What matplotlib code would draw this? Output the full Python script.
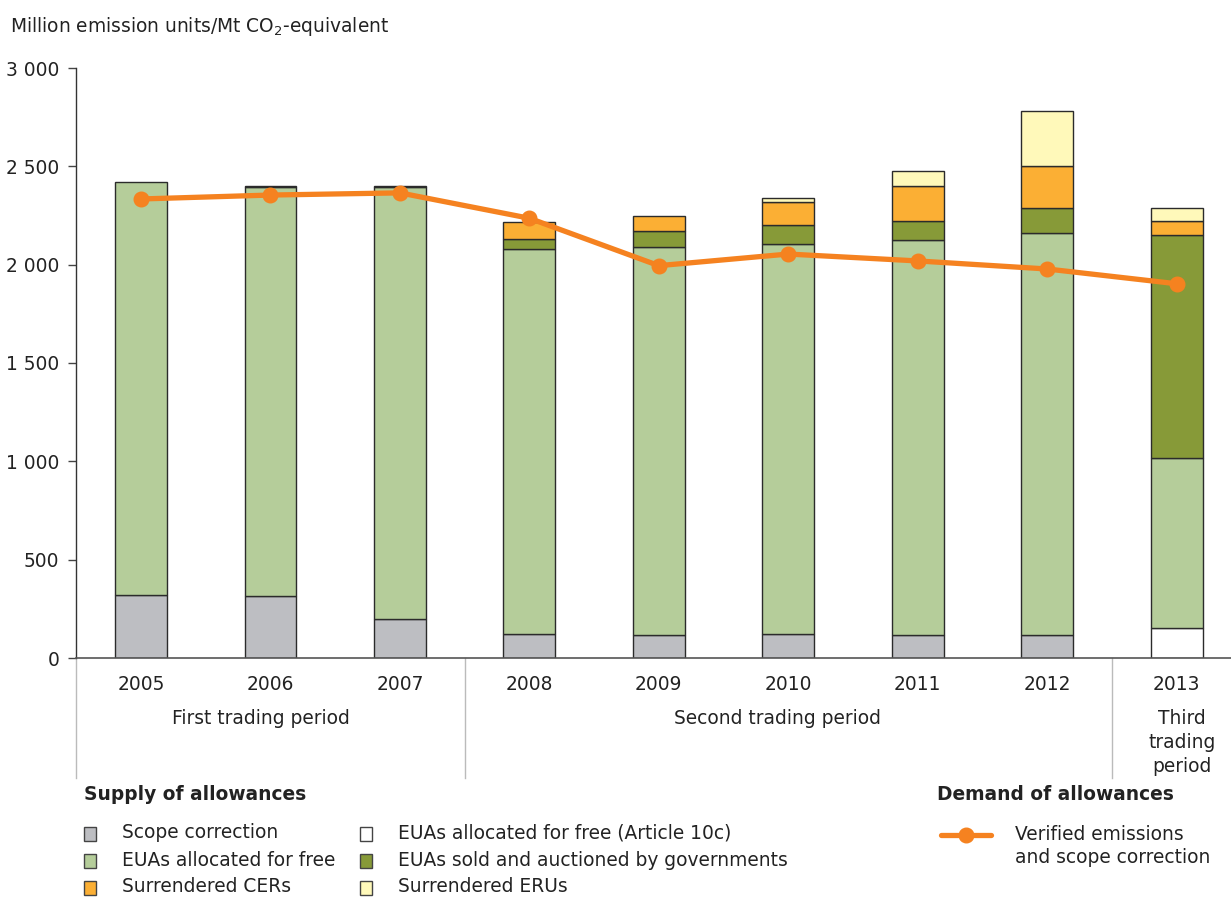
import matplotlib
matplotlib.use("Agg")
import matplotlib.pyplot as plt
from matplotlib.patches import Rectangle
from matplotlib.lines import Line2D
import numpy as np

years = ["2005", "2006", "2007", "2008", "2009", "2010", "2011", "2012", "2013"]
scope_correction = [320, 315, 198, 122, 117, 122, 117, 117, 0]
article_10c = [0, 0, 0, 0, 0, 0, 0, 0, 151]
euas_free = [2100, 2080, 2197, 1956, 1973, 1985, 2009, 2046, 865]
euas_auctioned = [0, 5, 5, 53, 80, 93, 95, 124, 1137]
cers = [0, 0, 0, 86, 79, 117, 178, 215, 68]
erus = [0, 0, 0, 0, 0, 20, 76, 278, 66]
verified = [2334, 2354, 2365, 2236, 1995, 2054, 2019, 1978, 1903]

periods = ["First trading period", "Second trading period", "Third\ntrading\nperiod"]
period_centers = [0.93, 4.92, 8.04]
period_bounds = [-0.5, 2.5, 7.5]

C_SCOPE = "#BDBEC2"
C_FREE = "#B5CD9A"
C_AUCT = "#879A38"
C_CER = "#FBAF34"
C_ERU = "#FFF9BA"
C_10C = "#FFFFFF"
C_LINE = "#F58220"
EDGE = "#2b2b2b"
TXT = "#222222"
FS = 13.4

W, H = 1231, 898
fig = plt.figure(figsize=(W / 100, H / 100), dpi=100)
ax = fig.add_axes([76 / W, 1 - 658 / H, 1 - 76 / W, (658 - 68) / H])

x = np.arange(len(years))
bw = 0.40
bottom = np.zeros(len(years))
layers = [(scope_correction, C_SCOPE), (article_10c, C_10C), (euas_free, C_FREE),
          (euas_auctioned, C_AUCT), (cers, C_CER), (erus, C_ERU)]
for vals, col in layers:
    v = np.array(vals, dtype=float)
    mask = v > 0
    ax.bar(x[mask], v[mask], bw, bottom=bottom[mask], color=col, edgecolor=EDGE,
           linewidth=1.0, zorder=2)
    bottom += v

ax.plot(x, verified, color=C_LINE, lw=3.8, marker="o", markersize=10.5, zorder=4,
        solid_capstyle="round")

ax.set_xlim(-0.502, 8.42)
ax.set_ylim(0, 3000)
ax.set_yticks([0, 500, 1000, 1500, 2000, 2500, 3000])
ax.set_yticklabels(["0", "500", "1 000", "1 500", "2 000", "2 500", "3 000"])
ax.set_xticks(x)
ax.set_xticklabels(years)
ax.tick_params(axis="y", length=6, width=1, color="#444444", labelsize=FS,
               labelcolor=TXT, pad=6)
ax.tick_params(axis="x", length=0, labelsize=FS, labelcolor=TXT, pad=12.5)
for s in ["top", "right"]:
    ax.spines[s].set_visible(False)
ax.spines["left"].set_color("#333333")
ax.spines["bottom"].set_color("#555555")
ax.spines["left"].set_linewidth(1.0)
ax.spines["bottom"].set_linewidth(1.2)

# period separators and labels
trans = ax.get_xaxis_transform()
for b in period_bounds:
    ax.add_line(Line2D([b, b], [0, -120 / 590], transform=trans, color="#bbbbbb",
                       lw=1.0, clip_on=False))
for lab, c in zip(periods, period_centers):
    ax.text(c, -51 / 590, lab, transform=trans, ha="center", va="top", fontsize=FS,
            color=TXT, linespacing=1.33)

# overlay for title and legend (pixel coordinates)
ov = fig.add_axes([0, 0, 1, 1], zorder=10)
ov.set_xlim(0, W)
ov.set_ylim(H, 0)
ov.axis("off")
ov.patch.set_alpha(0)

ov.text(10, 26, "Million emission units/Mt CO$_2$-equivalent", fontsize=FS,
        color=TXT, va="center", ha="left")

ov.text(84, 795, "Supply of allowances", fontsize=FS, fontweight="bold", color=TXT,
        va="center", ha="left")
ov.text(937, 795, "Demand of allowances", fontsize=FS, fontweight="bold", color=TXT,
        va="center", ha="left")

legend_items = [
    (90, 833, C_SCOPE, "Scope correction"),
    (90, 860, C_FREE, "EUAs allocated for free"),
    (90, 887, C_CER, "Surrendered CERs"),
    (366, 833, C_10C, "EUAs allocated for free (Article 10c)"),
    (366, 860, C_AUCT, "EUAs sold and auctioned by governments"),
    (366, 887, C_ERU, "Surrendered ERUs"),
]
for lx, ly, col, lab in legend_items:
    ov.add_patch(Rectangle((lx - 6, ly - 6), 12, 14, facecolor=col, edgecolor="#444444",
                           lw=1.0))
    ov.text(lx + 32, ly, lab, fontsize=FS, color=TXT, va="center", ha="left")

ov.add_line(Line2D([941, 991], [835, 835], color=C_LINE, lw=3.8, solid_capstyle="round"))
ov.add_line(Line2D([966], [835], color=C_LINE, marker="o", markersize=10.5))
ov.text(1015, 846, "Verified emissions\nand scope correction", fontsize=FS, color=TXT,
        va="center", ha="left", linespacing=1.25)

fig.savefig("out.png", dpi=100)
